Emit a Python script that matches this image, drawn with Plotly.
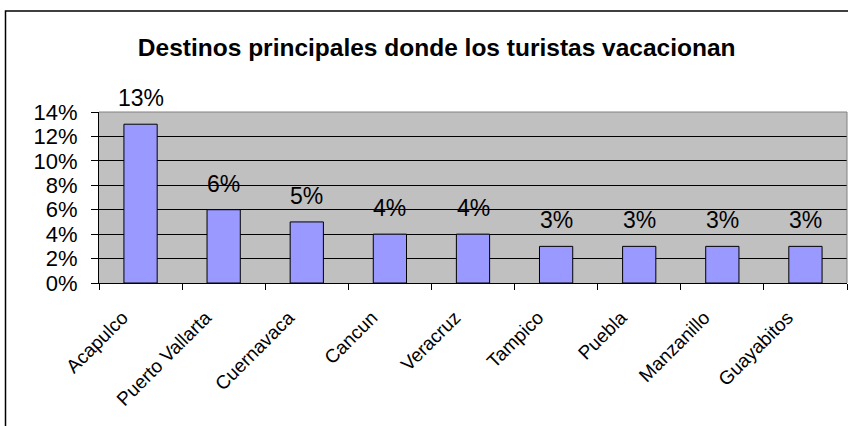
import plotly.graph_objects as go

categories = ["Acapulco", "Puerto Vallarta", "Cuernavaca", "Cancun", "Veracruz",
              "Tampico", "Puebla", "Manzanillo", "Guayabitos"]
values = [0.13, 0.06, 0.05, 0.04, 0.04, 0.03, 0.03, 0.03, 0.03]
y_ticks = [0, 0.02, 0.04, 0.06, 0.08, 0.10, 0.12, 0.14]
y_ticklabels = ["0%", "2%", "4%", "6%", "8%", "10%", "12%", "14%"]
title_text = "Destinos principales donde los turistas vacacionan"

FONT = "Liberation Sans, Arial, sans-serif"

fig = go.Figure()
fig.add_trace(go.Bar(
    x=categories, y=values,
    marker=dict(color="#9999FF", line=dict(color="#000000", width=1)),
    hoverinfo="skip",
))

annotations = []
for c, v in zip(categories, values):
    annotations.append(dict(
        x=c, y=v, xref="x", yref="y", text=f"{round(v*100)}%",
        showarrow=False, yanchor="bottom", yshift=11,
        font=dict(family=FONT, size=23, color="#000000"),
    ))

fig.update_layout(
    width=848, height=426,
    margin=dict(l=99, r=1, t=112, b=143),
    paper_bgcolor="#FFFFFF",
    plot_bgcolor="#C0C0C0",
    bargap=0.6,
    showlegend=False,
    title=dict(text=f"<b>{title_text}</b>", x=0.515, xanchor="center",
               y=1 - 47/426, yanchor="middle", yref="container",
               font=dict(family=FONT, size=24.5, color="#000000")),
    xaxis=dict(
        type="category", tickson="boundaries", ticks="outside", ticklen=6,
        tickcolor="#000000", showline=True, linecolor="#000000", linewidth=1,
        showgrid=False, tickangle=-45, ticklabelshift=-18, ticklabelstandoff=15,
        tickfont=dict(family=FONT, size=19, color="#000000"),
    ),
    yaxis=dict(
        range=[0, 0.14], tickvals=y_ticks, ticktext=y_ticklabels,
        ticks="outside", ticklen=7, tickcolor="#000000",
        showline=True, linecolor="#000000", linewidth=1,
        showgrid=True, gridcolor="#000000", gridwidth=1, zeroline=False,
        ticklabelstandoff=9,
        tickfont=dict(family=FONT, size=22, color="#000000"),
    ),
    annotations=annotations,
    shapes=[
        dict(type="path", xref="paper", yref="paper",
             path="M 0,1 L 1,1 L 1,0", line=dict(color="#808080", width=1),
             layer="above"),
        dict(type="rect", xref="paper", yref="paper",
             x0=-0.1250, x1=1.2, y0=-2.0, y1=1.591,
             line=dict(color="#000000", width=1.5), layer="below",
             fillcolor="rgba(0,0,0,0)"),
    ],
)

fig.write_html(
    "out.html",
    config={"displayModeBar": False},
    post_script="document.body.style.margin='0';document.body.style.overflow='hidden';",
)
